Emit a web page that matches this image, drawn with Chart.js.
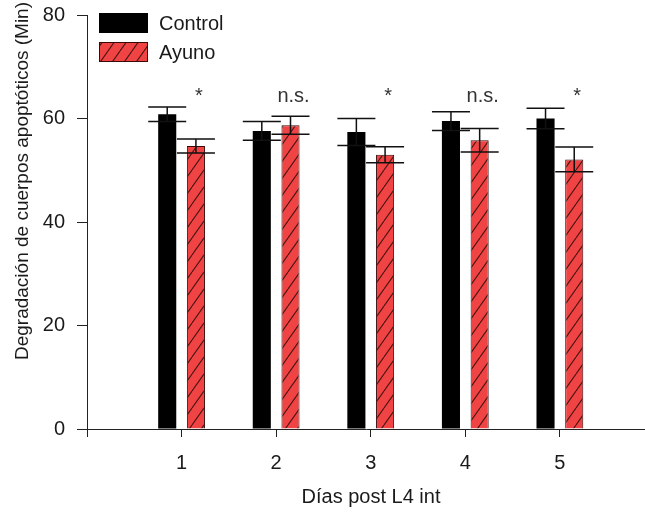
<!DOCTYPE html>
<html>
<head>
  <title>Degradación de cuerpos apoptóticos</title>
  <script src="https://cdn.jsdelivr.net/npm/chart.js@4.4.0/dist/chart.umd.min.js"></script>
  <style>
    body {
      margin: 0;
      padding: 0;
      background: #fff;
    }
  </style>
</head>
<body>
  <canvas id="grafico" width="645" height="512"></canvas>

  <script>
    // Datos
    const dias = [1, 2, 3, 4, 5];
    const control = [60.8, 57.6, 57.4, 59.5, 60.0];
    const controlErr = [1.4, 1.8, 2.6, 1.8, 2.0];
    const ayuno = [54.7, 58.7, 53.0, 55.8, 52.1];
    const ayunoErr = [1.35, 1.75, 1.55, 2.25, 2.4];
    const significancia = ['*', 'n.s.', '*', 'n.s.', '*'];
    const xTicks = [0, 1, 2, 3, 4, 5];
    const yTicks = [0, 20, 40, 60, 80];

    const fuente = '"Liberation Sans", Arial, sans-serif';
    const colorTexto = '#1a1a1a';

    // Patrón rayado rojo para "Ayuno"
    function crearRayado() {
      const w = 12, h = 17;
      const c = document.createElement('canvas');
      c.width = w;
      c.height = h;
      const g = c.getContext('2d');
      g.fillStyle = '#f04343';
      g.fillRect(0, 0, w, h);
      g.strokeStyle = '#4a1414';
      g.lineWidth = 1.1;
      g.beginPath();
      g.moveTo(0, h);
      g.lineTo(w, 0);
      g.moveTo(-w, h);
      g.lineTo(0, 0);
      g.moveTo(w, h);
      g.lineTo(2 * w, 0);
      g.stroke();
      return document.getElementById('grafico').getContext('2d').createPattern(c, 'repeat');
    }
    const rayado = crearRayado();

    // Barras de error, asteriscos, leyenda y títulos
    const extras = {
      id: 'extras',
      afterDatasetsDraw(chart) {
        const ctx = chart.ctx;
        const y = chart.scales.y;
        const errores = [controlErr, ayunoErr];
        const medias = [control, ayuno];
        ctx.save();
        ctx.strokeStyle = '#111';
        ctx.lineWidth = 1.5;
        [0, 1].forEach(d => {
          chart.getDatasetMeta(d).data.forEach((bar, i) => {
            const top = y.getPixelForValue(medias[d][i] + errores[d][i]);
            const bot = y.getPixelForValue(medias[d][i] - errores[d][i]);
            ctx.beginPath();
            ctx.moveTo(bar.x, top);
            ctx.lineTo(bar.x, bot);
            ctx.moveTo(bar.x - 19, top);
            ctx.lineTo(bar.x + 19, top);
            ctx.moveTo(bar.x - 19, bot);
            ctx.lineTo(bar.x + 19, bot);
            ctx.stroke();
          });
        });

        // significancia sobre las barras de ayuno
        ctx.fillStyle = '#333';
        ctx.font = '20px ' + fuente;
        ctx.textAlign = 'center';
        ctx.textBaseline = 'alphabetic';
        chart.getDatasetMeta(1).data.forEach((bar, i) => {
          ctx.fillText(significancia[i], bar.x + 3, y.getPixelForValue(63.2));
        });
        ctx.restore();
      },
      afterDraw(chart) {
        const ctx = chart.ctx;
        ctx.save();
        // leyenda
        ctx.fillStyle = '#000';
        ctx.fillRect(99, 13, 49, 20);
        ctx.fillStyle = rayado;
        ctx.fillRect(99, 42, 49, 20);
        ctx.strokeStyle = '#3a0a0a';
        ctx.lineWidth = 1;
        ctx.strokeRect(99.5, 42.5, 48, 19);
        ctx.fillStyle = colorTexto;
        ctx.font = '20px ' + fuente;
        ctx.textAlign = 'left';
        ctx.textBaseline = 'middle';
        ctx.fillText(chart.data.datasets[0].label, 159, 24);
        ctx.fillText(chart.data.datasets[1].label, 159, 53);

        // títulos de ejes
        ctx.textAlign = 'center';
        ctx.fillText('Días post L4 int', 371, 497);
        ctx.translate(23, 181);
        ctx.rotate(-Math.PI / 2);
        ctx.font = '19px ' + fuente;
        ctx.fillText('Degradación de cuerpos apoptóticos (Min)', 0, 0);
        ctx.restore();
      }
    };

    new Chart(document.getElementById('grafico'), {
      type: 'bar',
      data: {
        datasets: [{
          label: 'Control',
          data: dias.map((d, i) => ({ x: d, y: control[i] })),
          backgroundColor: '#000',
          borderWidth: 0
        }, {
          label: 'Ayuno',
          data: dias.map((d, i) => ({ x: d, y: ayuno[i] })),
          backgroundColor: rayado,
          borderColor: '#3a0a0a',
          borderWidth: 1
        }]
      },
      options: {
        responsive: false,
        animation: false,
        categoryPercentage: 0.607,
        barPercentage: 0.63,
        layout: { padding: { top: 15, right: 0, left: 0, bottom: 0 } },
        plugins: {
          legend: { display: false },
          tooltip: { enabled: false }
        },
        scales: {
          x: {
            type: 'linear',
            min: 0,
            max: 5.9,
            offset: false,
            afterBuildTicks: s => { s.ticks = xTicks.map(v => ({ value: v })); },
            afterFit: s => { s.height = 83; s.paddingLeft = 0; s.paddingRight = 0; },
            grid: { offset: false, drawOnChartArea: false, color: '#222', tickLength: 8 },
            border: { color: '#222', width: 1 },
            ticks: {
              padding: 14,
              color: colorTexto,
              font: { size: 20, family: fuente },
              callback: v => (v === 0 ? '' : v)
            }
          },
          y: {
            min: 0,
            max: 80,
            afterBuildTicks: s => { s.ticks = yTicks.map(v => ({ value: v })); },
            afterFit: s => { s.width = 87; s.paddingTop = 0; s.paddingBottom = 0; },
            grid: { drawOnChartArea: false, color: '#222', tickLength: 10 },
            border: { color: '#222', width: 1 },
            ticks: {
              padding: 12,
              color: colorTexto,
              font: { size: 20, family: fuente }
            }
          }
        }
      },
      plugins: [extras]
    });
  </script>
</body>
</html>
